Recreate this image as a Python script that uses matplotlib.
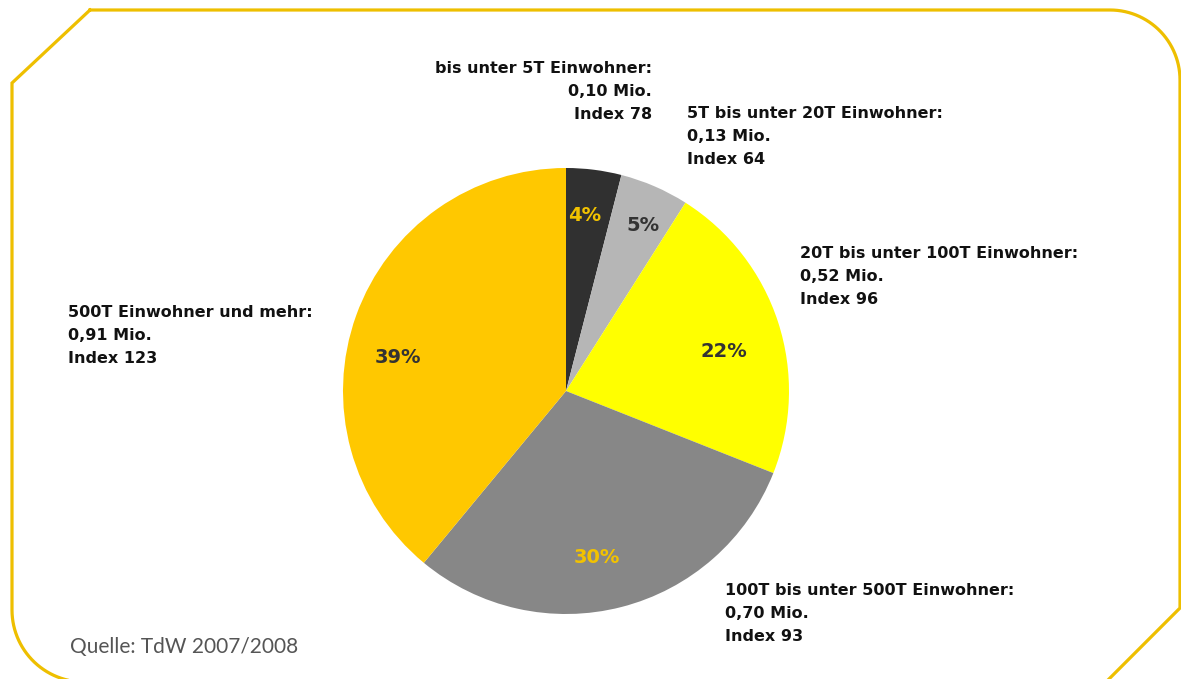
import numpy as np
import matplotlib
matplotlib.use("Agg")
import matplotlib.pyplot as plt

# Population size classes (clockwise from 12 o'clock)
categories = [
    "bis unter 5T Einwohner",
    "5T bis unter 20T Einwohner",
    "20T bis unter 100T Einwohner",
    "100T bis unter 500T Einwohner",
    "500T Einwohner und mehr",
]
shares = [4, 5, 22, 30, 39]                 # percent
mio = [0.10, 0.13, 0.52, 0.70, 0.91]        # million people
index_values = [78, 64, 96, 93, 123]

slice_colors = ["#303030", "#b6b6b6", "#ffff00", "#878787", "#ffc800"]
pct_colors = ["#f2c200", "#333333", "#333333", "#f2c200", "#333333"]
# placement of the percent labels inside each wedge
pct_radius = [0.79, 0.82, 0.73, 0.76, 0.77]
pct_angle_shift = [-1.0, 1.5, 4.0, 4.0, -8.4]   # degrees, clockwise
source_text = "Quelle: TdW 2007/2008"

W, H = 1181, 679
fig = plt.figure(figsize=(W / 100, H / 100), dpi=100)
ax = fig.add_axes([0, 0, 1, 1])


def py(y):
    """Convert a top-down pixel row to the axes' bottom-up y."""
    return H - y


# Pie
cx, cy, r = 566, py(391), 223
wedges, _ = ax.pie(
    shares, colors=slice_colors, startangle=90, counterclock=False,
    center=(cx, cy), radius=r, wedgeprops=dict(linewidth=0), frame=True)
ax.set_xlim(0, W)
ax.set_ylim(0, H)
ax.set_aspect("equal")
ax.axis("off")

for w, s, c, fr, dshift in zip(wedges, shares, pct_colors, pct_radius,
                               pct_angle_shift):
    mid = np.deg2rad((w.theta1 + w.theta2) / 2 - dshift)
    ax.text(cx + fr * r * np.cos(mid), cy + fr * r * np.sin(mid), f"{s}%",
            ha="center", va="center", fontsize=14, fontweight="bold",
            family="DejaVu Sans", color=c)

# Frame with cut and rounded corners
gold = "#eebf00"
pts = [(90, 10), (1110, 10)]
t = np.linspace(0, np.pi / 2, 30)
pts += list(zip(1110 + 70 * np.sin(t), 80 - 70 * np.cos(t)))
pts += [(1180, 608), (1180 - 74, 682), (84, 682)]
pts += list(zip(84 - 72 * np.sin(t), 610 + 72 * np.cos(t)))
pts += [(12, 83), (90, 10)]
fx, fy = zip(*pts)
ax.plot(fx, [py(v) for v in fy], color=gold, lw=2.3, solid_joinstyle="miter",
        clip_on=False)

# Category labels: (anchor x, first baseline, alignment)
label_pos = [
    (652, 73, "right"),
    (687, 118, "left"),
    (800, 258, "left"),
    (725, 595, "left"),
    (68, 317, "left"),
]
line_gap = 23
for cat, m, idx, (x, y0, ha) in zip(categories, mio, index_values, label_pos):
    lines = [f"{cat}:", f"{m:.2f}".replace(".", ",") + " Mio.", f"Index {idx}"]
    for i, line in enumerate(lines):
        ax.text(x, py(y0 + i * line_gap), line, ha=ha, va="baseline",
                fontsize=11.5, fontweight="bold", family="DejaVu Sans",
                color="#111111")

ax.text(70, py(653), source_text, ha="left", va="baseline", fontsize=15,
        family=["Lato", "DejaVu Sans"], fontweight="normal", color="#555555")

fig.savefig("out.png", dpi=100)
